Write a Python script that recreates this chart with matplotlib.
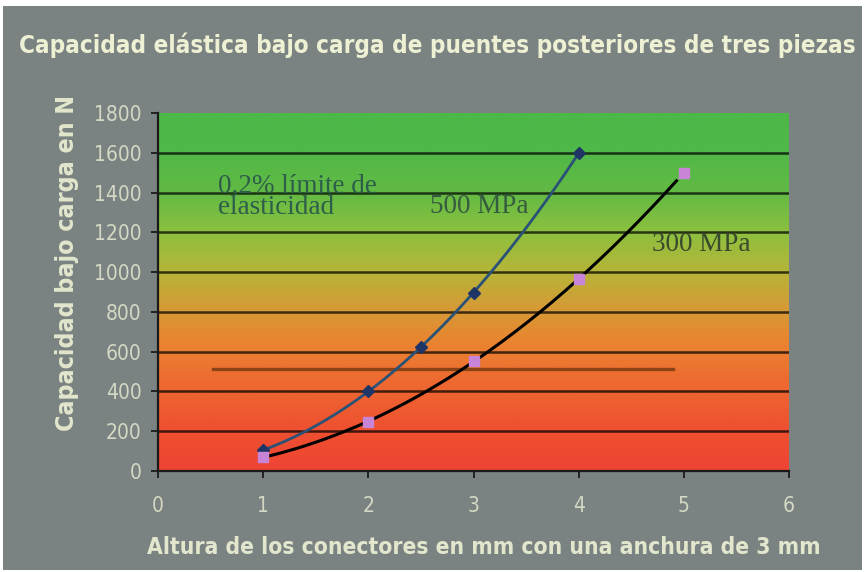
import numpy as np
import matplotlib
matplotlib.use("Agg")
import matplotlib.pyplot as plt
from matplotlib.colors import LinearSegmentedColormap
from matplotlib import font_manager
from matplotlib.font_manager import FontProperties
from matplotlib.patches import Rectangle

# Connector height (mm) and elastic load capacity (N)
x_500 = [1, 2, 2.5, 3, 4]
y_500 = [105, 400, 625, 895, 1598]
x_300 = [1, 2, 3, 4, 5]
y_300 = [70, 246, 553, 965, 1500]
limit_value = 515
limit_span = [0.52, 4.9]

x_ticks = [0, 1, 2, 3, 4, 5, 6]
y_ticks = [0, 200, 400, 600, 800, 1000, 1200, 1400, 1600, 1800]

title = "Capacidad elástica bajo carga de puentes posteriores de tres piezas"
x_label = "Altura de los conectores en mm con una anchura de 3 mm"
y_label = "Capacidad bajo carga en N"


def pick_condensed(bold):
    """Return FontProperties for a condensed sans face if one is installed."""
    want = "bold" if bold else "normal"
    best = None
    for f in font_manager.fontManager.ttflist:
        name = f.name.lower()
        cond = ("condensed" in name or "narrow" in name
                or f.stretch in ("condensed", "semi-condensed"))
        if not cond or "mono" in name or "serif" in name and "sans" not in name:
            continue
        is_bold = f.weight in ("bold", 700, 600, "semibold", "demibold")
        if (want == "bold") == is_bold:
            if f.style == "normal":
                return FontProperties(fname=f.fname)
            best = best or FontProperties(fname=f.fname)
    if best is not None:
        return best
    return FontProperties(family="DejaVu Sans",
                          weight="bold" if bold else "normal")


available = {f.name for f in font_manager.fontManager.ttflist}
serif = "Liberation Serif" if "Liberation Serif" in available else "DejaVu Serif"
fp_regular = pick_condensed(False)
fp_bold = pick_condensed(True)

bg = "#7a8381"
cream = "#e2e6cc"
tick_cream = "#d4d8c4"

fig = plt.figure(figsize=(8.64, 5.72), dpi=100, facecolor="white")
fig.patches.append(Rectangle((3 / 864, 2 / 572), 859 / 864, 564 / 572,
                             transform=fig.transFigure, facecolor=bg,
                             edgecolor="none", zorder=-10))

ax = fig.add_axes([158 / 864, 101 / 572, 631 / 864, 358 / 572])
ax.set_facecolor("none")
ax.set_xlim(0, 6)
ax.set_ylim(0, 1800)

# vertical red-to-green background
cmap = LinearSegmentedColormap.from_list("load", [
    (0.0, "#ee4433"), (0.12, "#ef5130"), (0.25, "#ee6a30"),
    (0.36, "#ea8430"), (0.46, "#d49c36"), (0.56, "#b5b538"),
    (0.67, "#8cc03f"), (0.78, "#62ba44"), (0.9, "#4fb848"),
    (1.0, "#4cb848")])
grad = np.linspace(0, 1, 256).reshape(-1, 1)
ax.imshow(grad, extent=[0, 6, 0, 1800], origin="lower", aspect="auto",
          cmap=cmap, zorder=0)

for v in y_ticks[1:-1]:
    ax.axhline(v, color="black", alpha=0.72, lw=1.8, zorder=1)

# 0.2% yield limit line
ax.plot(limit_span, [limit_value, limit_value], color="#7a3a12", lw=2.4,
        alpha=0.85, zorder=2)

# smoothed curves
c500 = np.polyfit(x_500, y_500, 2)
xs = np.linspace(min(x_500), max(x_500), 200)
ax.plot(xs, np.polyval(c500, xs), color="#2a5277", lw=2.0, zorder=3)
ax.plot(x_500, y_500, linestyle="none", marker="D", ms=6.5,
        color="#1e3566", zorder=5)

c300 = np.polyfit(x_300, y_300, 2)
xs = np.linspace(min(x_300), max(x_300) - 0.07, 200)
ax.plot(xs, np.polyval(c300, xs), color="black", lw=2.2, zorder=3)
ax.plot(x_300, y_300, linestyle="none", marker="s", ms=7.5,
        color="#c884d6", zorder=5)

ax.text(0.57, 1290, "0,2% límite de\nelasticidad", family=serif,
        fontsize=19.5, color="#2d5e4a", linespacing=0.82, zorder=4)
ax.text(2.59, 1330, "500 MPa", family=serif, fontsize=19.5,
        color="#355c3f", va="center", zorder=4)
ax.text(4.7, 1140, "300 MPa", family=serif, fontsize=19.5,
        color="#3a4a2c", va="center", zorder=4)

for s in ["top", "right"]:
    ax.spines[s].set_visible(False)
for s in ["left", "bottom"]:
    ax.spines[s].set_color("#1a1a1a")
    ax.spines[s].set_linewidth(1.6)
    ax.spines[s].set_zorder(6)

ax.set_xticks(x_ticks)
ax.set_yticks(y_ticks)
ax.tick_params(axis="both", colors="#222222", length=5, width=1.4,
               labelcolor=tick_cream, direction="out")
ax.tick_params(axis="x", pad=13)
ax.tick_params(axis="y", pad=7)
for lab in ax.get_xticklabels() + ax.get_yticklabels():
    lab.set_fontproperties(fp_regular)
    lab.set_fontsize(15)

t_title = fig.text(437 / 864, 1 - 45 / 572, title, ha="center", va="center",
                   color="#eef0d4", fontproperties=fp_bold)
t_x = fig.text(484 / 864, 1 - 548 / 572, x_label, ha="center", va="center",
               color=cream, fontproperties=fp_bold)
t_y = fig.text(67 / 864, 1 - 263 / 572, y_label, ha="center", va="center",
               rotation=90, color=cream, fontproperties=fp_bold)

# size each caption so it spans the same extent as on the printed chart
renderer = fig.canvas.get_renderer()
for txt, span, horizontal in [(t_title, 838, True), (t_x, 672, True),
                              (t_y, 337, False)]:
    txt.set_fontsize(20)
    bb = txt.get_window_extent(renderer)
    size = bb.width if horizontal else bb.height
    txt.set_fontsize(20 * span / size)

fig.savefig("out.png", dpi=100, facecolor="white")
